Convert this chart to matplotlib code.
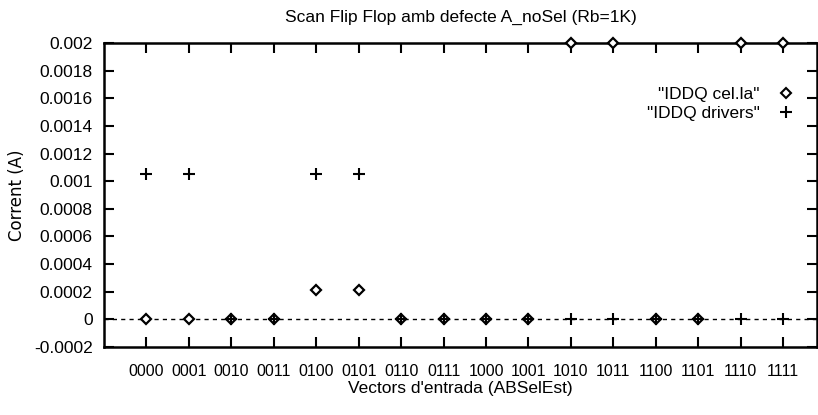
import matplotlib

matplotlib.use("Agg")
import matplotlib.pyplot as plt
from matplotlib.lines import Line2D

vectors = ["0000", "0001", "0010", "0011", "0100", "0101", "0110", "0111",
           "1000", "1001", "1010", "1011", "1100", "1101", "1110", "1111"]
iddq_cella = [0, 0, 0, 0, 0.00021, 0.00021, 0, 0,
              0, 0, 0.002, 0.002, 0, 0, 0.002, 0.002]
iddq_drivers = [0.00105, 0.00105, 0, 0, 0.00105, 0.00105, 0, 0,
                0, 0, 0, 0, 0, 0, 0, 0]
yticks = [-0.0002, 0, 0.0002, 0.0004, 0.0006, 0.0008, 0.001, 0.0012,
          0.0014, 0.0016, 0.0018, 0.002]
ytick_labels = ["-0.0002", "0", "0.0002", "0.0004", "0.0006", "0.0008", "0.001",
                "0.0012", "0.0014", "0.0016", "0.0018", "0.002"]

plt.rcParams["font.family"] = ["Liberation Sans", "DejaVu Sans"]

fig = plt.figure(figsize=(8.18, 4.15), dpi=100)
ax = fig.add_axes([0.127, 0.164, 0.872, 0.732])

x = list(range(len(vectors)))
ax.axhline(0, color="black", lw=1.0, ls=(0, (3, 3)), zorder=1)
ax.plot(x, iddq_cella, ls="none", marker="D", ms=5.5, mfc="white", mec="black",
        mew=1.6, clip_on=False, zorder=3)
ax.plot(x, iddq_drivers, ls="none", marker="+", ms=9, mec="black", mew=1.5,
        clip_on=False, zorder=4)

ax.set_xlim(-1, 15.8)
ax.set_ylim(-0.0002, 0.002)
ax.set_xticks(x)
ax.set_xticklabels(vectors, fontsize=11.5)
ax.set_yticks(yticks)
ax.set_yticklabels(ytick_labels, fontsize=12.5)
ax.tick_params(direction="in", length=7, width=1.5, top=True, right=True)
ax.tick_params(axis="x", pad=12)
ax.tick_params(axis="y", pad=8)
for sp in ax.spines.values():
    sp.set_linewidth(1.8)

ax.set_title("Scan Flip Flop amb defecte A_noSel (Rb=1K)", fontsize=12.5, pad=15)
ax.set_xlabel("Vectors d'entrada (ABSelEst)", fontsize=12.5, labelpad=2)
ax.set_ylabel("Corrent (A)", fontsize=12, family="DejaVu Sans", labelpad=6)

handles = [
    Line2D([], [], ls="none", marker="D", ms=5, mfc="white", mec="black", mew=1.5),
    Line2D([], [], ls="none", marker="+", ms=9, mec="black", mew=1.5),
]
leg = ax.legend(handles, ['"IDDQ cel.la"', '"IDDQ drivers"'], loc="upper right",
                bbox_to_anchor=(0.98, 0.885), frameon=False, fontsize=12.5,
                markerfirst=False, handlelength=1.0, handletextpad=1.0,
                labelspacing=0.25, borderpad=0)
for t in leg.get_texts():
    t.set_ha("right")

fig.savefig("out.png", dpi=100)
